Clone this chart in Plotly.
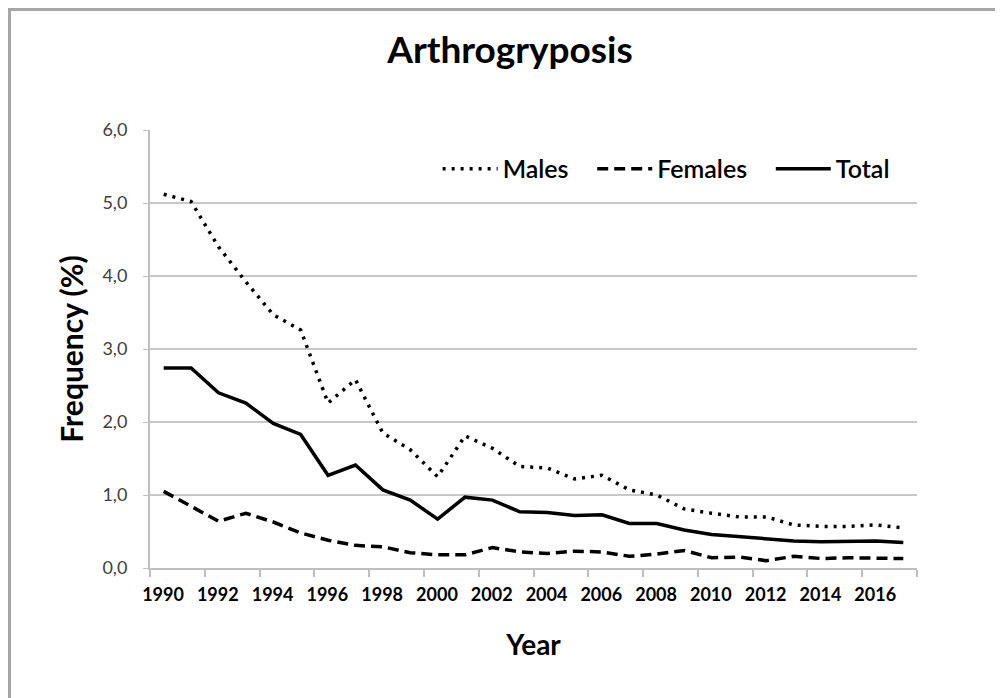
import plotly.graph_objects as go

years = list(range(1990, 2018))
males = [5.12, 5.02, 4.40, 3.92, 3.47, 3.26, 2.26, 2.58, 1.85, 1.62,
         1.25, 1.81, 1.64, 1.39, 1.37, 1.22, 1.27, 1.07, 1.00, 0.81,
         0.75, 0.70, 0.70, 0.59, 0.57, 0.57, 0.59, 0.55]
females = [1.05, 0.85, 0.64, 0.75, 0.63, 0.48, 0.38, 0.31, 0.29, 0.21,
           0.18, 0.18, 0.28, 0.22, 0.20, 0.23, 0.22, 0.16, 0.19, 0.24,
           0.14, 0.15, 0.10, 0.16, 0.13, 0.14, 0.13, 0.13]
total = [2.74, 2.74, 2.40, 2.26, 1.98, 1.83, 1.27, 1.41, 1.07, 0.93,
         0.67, 0.97, 0.93, 0.77, 0.76, 0.72, 0.73, 0.61, 0.61, 0.52,
         0.46, 0.43, 0.41, 0.37, 0.36, 0.36, 0.37, 0.35]
x_labels = [str(y) for y in range(1990, 2017, 2)]
y_ticks = [0, 1, 2, 3, 4, 5, 6]

FONT = "Lato, 'Open Sans', sans-serif"
NB = "\u00a0"

W, H = 995, 690
L, R, T, B = 142, 86, 122, 130
PW, PH = W - L - R, H - T - B

fig = go.Figure()
fig.add_trace(go.Scatter(x=years, y=males, name="Males" + NB * 3, mode="lines",
                         line=dict(color="#000000", width=3.5, dash="3px,6px")))
fig.add_trace(go.Scatter(x=years, y=females, name="Females" + NB * 3, mode="lines",
                         line=dict(color="#000000", width=3.5, dash="11px,6px")))
fig.add_trace(go.Scatter(x=years, y=total, name="Total", mode="lines",
                         line=dict(color="#000000", width=3.5)))

# tick marks sit between categories (Excel category axis); labels are shifted to category centers
tick_pos = [y - 0.5 for y in range(1990, 2019, 2)]
tick_txt = x_labels + [""]

fig.update_layout(
    width=W, height=H,
    paper_bgcolor="white", plot_bgcolor="white",
    margin=dict(l=L, r=R, t=T, b=B),
    separators=",.",
    font=dict(family=FONT, color="#000000"),
    title=dict(text="<b>Arthrogryposis</b>", x=502 / W, xanchor="center",
               y=1 - 42 / H, yanchor="middle",
               font=dict(size=37, family=FONT, color="#000000")),
    legend=dict(orientation="h", x=0.375, xanchor="left", y=0.911, yanchor="middle",
                font=dict(size=25, family=FONT, color="#000000", weight=600),
                bgcolor="rgba(0,0,0,0)", itemwidth=55),
    showlegend=True,
    shapes=[dict(type="rect", xref="paper", yref="paper",
                 x0=(1.5 - L) / PW, x1=(W + 10 - L) / PW,
                 y0=(PH + T - (H + 10)) / PH, y1=(PH + T - 1.5) / PH,
                 line=dict(color="#a6a6a6", width=3), fillcolor="rgba(0,0,0,0)",
                 layer="below")],
)

fig.update_xaxes(
    range=[1989.5, 2017.5], tickmode="array", tickvals=tick_pos, ticktext=tick_txt,
    ticks="outside", ticklen=7, tickcolor="#bfbfbf", tickwidth=1.5,
    ticklabelshift=13, ticklabelstandoff=2,
    showline=True, linecolor="#bfbfbf", linewidth=2, showgrid=False, zeroline=False,
    tickfont=dict(size=18, family=FONT, color="#000000", weight="bold"),
    title=dict(text="<b>Year</b>", font=dict(size=28, family=FONT, color="#000000"), standoff=32),
)
fig.update_yaxes(
    range=[0, 6], tickmode="array", tickvals=y_ticks, tickformat=".1f",
    ticks="outside", ticklen=5, tickcolor="#bfbfbf",
    ticklabelstandoff=12,
    showline=True, linecolor="#bfbfbf", linewidth=2,
    showgrid=True, gridcolor="#c8c8c8", gridwidth=2, zeroline=False,
    tickfont=dict(size=18, family=FONT, color="#404040"),
    title=dict(text="<b>Frequency (%)</b>", font=dict(size=30, family=FONT, color="#000000"), standoff=10),
)

fig.write_html("out.html")
